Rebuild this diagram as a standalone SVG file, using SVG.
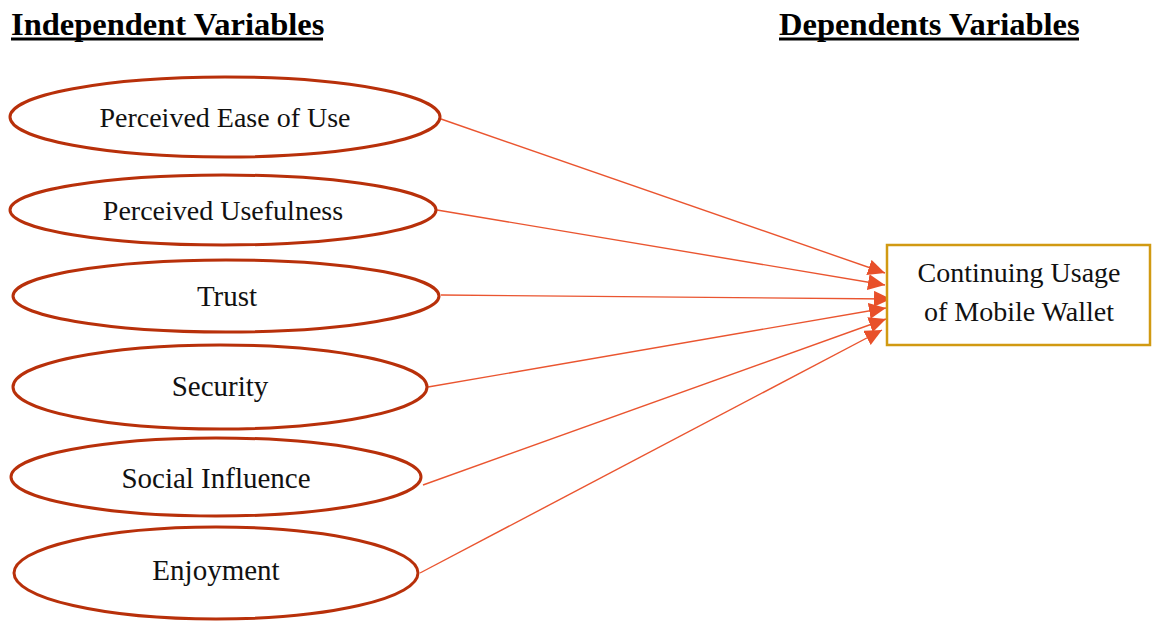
<svg xmlns="http://www.w3.org/2000/svg" width="1152" height="621" viewBox="0 0 1152 621">
  <style>
    .title { font-family: "Liberation Serif", "Times New Roman", serif; font-weight: bold; font-size: 32.5px; fill: #000; }
    .uline { fill: #000; }
    .var { fill: #fff; stroke: #B8300A; stroke-width: 3; }
    .lbl { font-family: "Liberation Serif", "Times New Roman", serif; font-size: 28px; fill: #111; text-anchor: middle; }
    .big { font-size: 29px; }
    .dep { fill: #fff; stroke: #D19A12; stroke-width: 2.5; }
    .link { stroke: #EA5530; stroke-width: 1.4; fill: none; marker-end: url(#head); }
  </style>
  <defs>
    <marker id="head" markerUnits="userSpaceOnUse" markerWidth="18" markerHeight="16" refX="17" refY="8" orient="auto">
      <path d="M0,0 L17,8 L0,16 Z" fill="#E8502A"/>
    </marker>
  </defs>
  <rect width="1152" height="621" fill="#fff"/>

  <!-- column headings -->
  <g id="heading-independent">
    <text class="title" x="11" y="35">Independent Variables</text>
    <rect class="uline" x="11" y="37.5" width="312" height="3"/>
  </g>
  <g id="heading-dependent">
    <text class="title" x="779" y="35">Dependents Variables</text>
    <rect class="uline" x="779" y="37.5" width="300" height="3"/>
  </g>

  <!-- connectors -->
  <g id="connectors">
    <line class="link" x1="441" y1="119" x2="885" y2="273"/>
    <line class="link" x1="437" y1="210" x2="885" y2="285"/>
    <line class="link" x1="441" y1="295" x2="891" y2="299"/>
    <line class="link" x1="428" y1="387" x2="886" y2="308"/>
    <line class="link" x1="423" y1="485" x2="886" y2="319"/>
    <line class="link" x1="420" y1="573" x2="882" y2="330"/>
  </g>

  <!-- independent variables -->
  <g id="node-ease-of-use">
    <ellipse class="var" cx="225" cy="117" rx="215" ry="40"/>
    <text class="lbl" x="225" y="126.5">Perceived Ease of Use</text>
  </g>
  <g id="node-usefulness">
    <ellipse class="var" cx="223" cy="210" rx="213" ry="35"/>
    <text class="lbl" x="223" y="219.5">Perceived Usefulness</text>
  </g>
  <g id="node-trust">
    <ellipse class="var" cx="226" cy="296" rx="213" ry="36"/>
    <text class="lbl big" x="227" y="306">Trust</text>
  </g>
  <g id="node-security">
    <ellipse class="var" cx="220" cy="387" rx="207" ry="42"/>
    <text class="lbl big" x="220" y="396">Security</text>
  </g>
  <g id="node-social-influence">
    <ellipse class="var" cx="216" cy="477" rx="205" ry="39"/>
    <text class="lbl big" x="216" y="488">Social Influence</text>
  </g>
  <g id="node-enjoyment">
    <ellipse class="var" cx="216" cy="573" rx="202" ry="46"/>
    <text class="lbl big" x="216" y="580">Enjoyment</text>
  </g>

  <!-- dependent variable -->
  <g id="node-continuing-usage">
    <rect class="dep" x="887" y="245" width="263" height="100"/>
    <text class="lbl" x="1019" y="282">Continuing Usage</text>
    <text class="lbl" x="1019" y="321">of Mobile Wallet</text>
  </g>
</svg>
